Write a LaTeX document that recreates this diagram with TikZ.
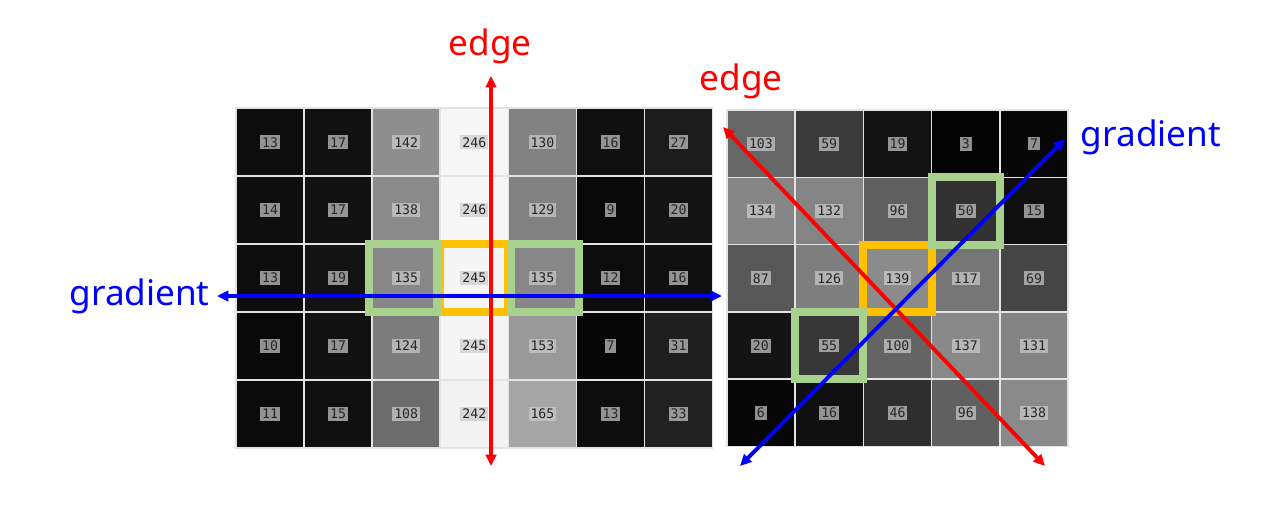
\documentclass[tikz,border=0pt]{standalone}
\usepackage{fontspec}
\setmainfont{Noto Sans}
\newfontfamily\cellmono{DejaVu Sans Mono}
\usetikzlibrary{arrows.meta,positioning}
\definecolor{hlorange}{HTML}{FFC000}
\definecolor{hlgreen}{HTML}{A9D18E}

\begin{document}
\begin{tikzpicture}[x=0.02cm,y=-0.02cm,
    cell/.style={draw=gray!22,line width=0.9pt,minimum width=1.362cm,minimum height=1.358cm,inner sep=0pt,outer sep=0pt},
    rcell/.style={cell,minimum width=1.366cm,minimum height=1.346cm},
    numbox/.style={fill=gray!40,fill opacity=0.7,text opacity=1,text=black!85,inner sep=1.1pt,font=\cellmono\fontsize{7.5}{8}\selectfont},
    hlbox/.style={line width=4.5pt},
    dirarrow/.style={line width=2.2pt,{Triangle[length=6.5pt,width=6pt]}-{Triangle[length=6.5pt,width=6pt]}},
    dirlabel/.style={font=\fontsize{20}{24}\selectfont,inner sep=2pt}]
  \useasboundingbox (0,0) rectangle (1261,508);
  % left image: vertical edge
  \foreach \row [count=\rr from 0] in {{13,17,142,246,130,16,27},{14,17,138,246,129,9,20},{13,19,135,245,135,12,16},{10,17,124,245,153,7,31},{11,15,108,242,165,13,33}} {
    \foreach \v [count=\cc from 0] in \row {
      \node[cell,fill={rgb,255:red,\v;green,\v;blue,\v}] (L-\rr-\cc) at ({270+68.1*\cc},{142.2+67.9*\rr}) {};
      \node[numbox] (Ln-\rr-\cc) at (L-\rr-\cc) {\v};
    }
  }
  % right image: diagonal edge
  \foreach \row [count=\rr from 0] in {{103,59,19,3,7},{134,132,96,50,15},{87,126,139,117,69},{20,55,100,137,131},{6,16,46,96,138}} {
    \foreach \v [count=\cc from 0] in \row {
      \node[rcell,fill={rgb,255:red,\v;green,\v;blue,\v}] (R-\rr-\cc) at ({760.9+68.3*\cc},{143.7+67.3*\rr}) {};
      \node[numbox] (Rn-\rr-\cc) at (R-\rr-\cc) {\v};
    }
  }
  % highlighted pixels
  \draw[hlbox,hlorange] (L-2-3.north west) rectangle (L-2-3.south east);
  \draw[hlbox,hlgreen] ([xshift=-0.06cm]L-2-2.north west) rectangle ([xshift=-0.06cm]L-2-2.south east);
  \draw[hlbox,hlgreen] ([xshift=0.06cm]L-2-4.north west) rectangle ([xshift=0.06cm]L-2-4.south east);
  \draw[hlbox,hlorange] (R-2-2.north west) rectangle (R-2-2.south east);
  \draw[hlbox,hlgreen] (R-1-3.north west) rectangle (R-1-3.south east);
  \draw[hlbox,hlgreen] (R-3-1.north west) rectangle (R-3-1.south east);
  % edge and gradient directions
  \coordinate (eL-top) at (491,76);
  \coordinate (eL-bot) at (491,466);
  \coordinate (gL-left) at (217,296);
  \coordinate (gL-right) at (722,296);
  \coordinate (eR-top) at (723,127);
  \coordinate (eR-bot) at (1045,466);
  \coordinate (gR-top) at (1065,139);
  \coordinate (gR-bot) at (740,466);
  \draw[dirarrow,red] (eL-bot) -- (eL-top);
  \draw[dirarrow,red] (eR-bot) -- (eR-top);
  \draw[dirarrow,blue] (gL-left) -- (gL-right);
  \draw[dirarrow,blue] (gR-bot) -- (gR-top);
  \node[dirlabel,red] (edgeL) at (490,46) {edge};
  \node[dirlabel,red] (edgeR) at (741,81) {edge};
  \node[dirlabel,blue,left=2pt of gL-left] (gradL) {gradient};
  \node[dirlabel,blue] (gradR) at (1151,137) {gradient};
\end{tikzpicture}
\end{document}
